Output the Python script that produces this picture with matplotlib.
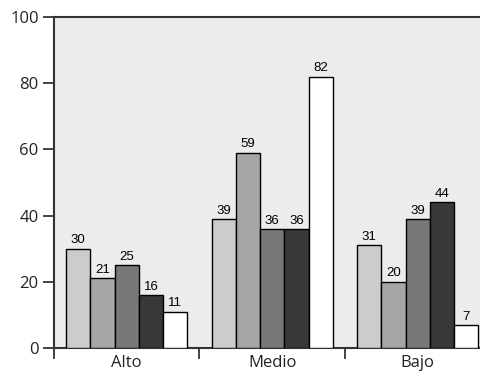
import numpy as np
import matplotlib.pyplot as plt

# data
categories = ["Alto", "Medio", "Bajo"]
series_values = [
    [30, 39, 31],
    [21, 59, 20],
    [25, 36, 39],
    [16, 36, 44],
    [11, 82, 7],
]
bar_colors = ["#cccccc", "#a6a6a6", "#787878", "#383838", "#ffffff"]
y_ticks = [0, 20, 40, 60, 80, 100]

fig = plt.figure(figsize=(4.81, 3.76), dpi=100)
# axes run a little past the right edge of the picture, as in the original
ax = fig.add_axes([54 / 481, 28 / 376, 436.5 / 481, 331 / 376])
ax.set_facecolor("#ececec")

x = np.arange(len(categories))
w = 0.167
for i, vals in enumerate(series_values):
    pos = x + (i - 2) * w
    bars = ax.bar(pos, vals, width=w, color=bar_colors[i], edgecolor="black",
                  linewidth=1.0, zorder=3)
    for b, v in zip(bars, vals):
        ax.text(b.get_x() + b.get_width() / 2, v + 0.7, str(v), ha="center",
                va="bottom", fontsize=9.5, family="Liberation Sans", zorder=4)

ax.set_xlim(-0.5, 2.5)
ax.set_ylim(0, 100)
ax.set_yticks(y_ticks)
ax.set_yticklabels([str(t) for t in y_ticks], family="Open Sans", fontsize=12,
                   color="#222222")
ax.set_xticks(x)
ax.set_xticklabels(categories, family="Open Sans", fontsize=12, color="#222222")
ax.set_xticks([-0.5, 0.5, 1.5, 2.5], minor=True)
ax.tick_params(axis="x", which="major", length=0, pad=5)
ax.tick_params(axis="x", which="minor", length=8, width=1.2, color="#222222")
ax.tick_params(axis="y", length=8, width=1.2, color="#222222", pad=3)

for s in ["left", "bottom", "top"]:
    ax.spines[s].set_color("#333333")
    ax.spines[s].set_linewidth(1.5)
ax.spines["right"].set_visible(False)

fig.savefig("out.png", dpi=100)
